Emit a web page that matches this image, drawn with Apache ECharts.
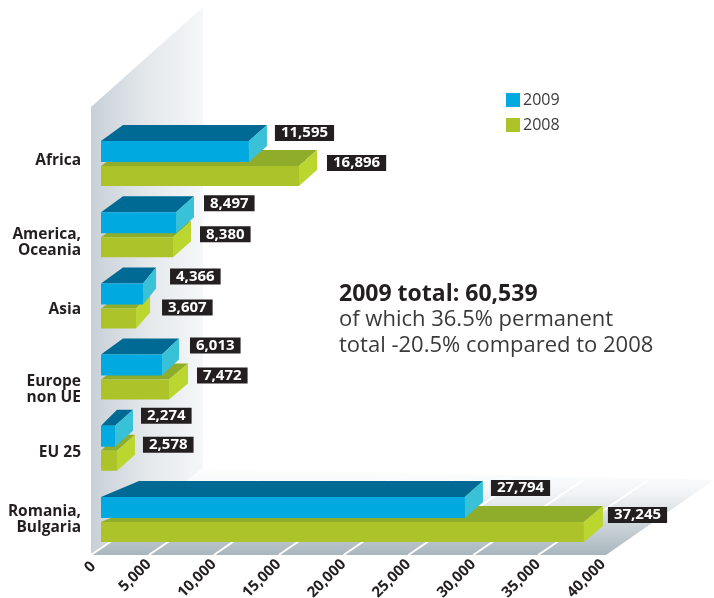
<!DOCTYPE html>
<html><head><meta charset="utf-8">
<style>html,body{margin:0;padding:0;background:#fff}#c{width:714px;height:598px}</style>
<script src="https://cdn.jsdelivr.net/npm/echarts@6/dist/echarts.min.js"></script>
</head><body><div id="c"></div>
<script>
const categories = ['Africa', 'America,\nOceania', 'Asia', 'Europe\nnon UE', 'EU 25', 'Romania,\nBulgaria'];
// Numbers printed in the picture's black boxes.
const printed2009 = [11595, 8497, 4366, 6013, 2274, 27794];
const printed2008 = [16896, 8380, 3607, 7472, 2578, 37245];
// Bar lengths as actually drawn in the picture, read against its axis
// (in the source the bars are not all proportional to their printed numbers).
const drawn2009 = [11400, 5780, 3240, 4700, 1080, 28050];
const drawn2008 = [15260, 5550, 2700, 5240, 1230, 37220];
const xTicks = [0, 5000, 10000, 15000, 20000, 25000, 30000, 35000, 40000];
const totalTitle = '2009 total: 60,539';
const totalNotes = 'of which 36.5% permanent\ntotal -20.5% compared to 2008';

const INK = '#231f20', FONT = '"Open Sans", sans-serif';
const fmt = v => v.toLocaleString('en-US');

// Hand placement quirks of the source artwork, by row.
const catShift = [-3, 8, 4, 12, 4, 0];
const look2009 = { up: [16, 17, 15, 17, 18, 17], gap: [8, 10, 14, 11, 8, 8], side: [18, 18, 13, 17, 18, 18] };
const look2008 = { up: [11, 11, 9, 12, 14, 15], gap: [10, 9, 12, 9, 8, 5], side: [18, 18, 14, 19, 18, 19] };

function frame(params, api) {
  const bottom = api.coord([0, 5])[1] + api.size([0, 1])[1] / 2;
  const l = api.coord([0, 5])[0] + 7, r = api.coord([40000, 5])[0] + 3;
  const wallTop = bottom - 448, depth = 112;
  const children = [
    { type: 'polygon', shape: { points: [[l, wallTop], [l + depth, wallTop - 100], [l + depth, bottom - 87], [l, bottom]] },
      style: { fill: new echarts.graphic.LinearGradient(0, 0, 1, 0, [{ offset: 0, color: '#c8d0d7' }, { offset: 0.5, color: '#e4e8eb' }, { offset: 1, color: '#f5f7f8' }]) } },
    { type: 'polygon', shape: { points: [[l, bottom], [r, bottom], [r + 108, bottom - 75], [l + depth, bottom - 87]] },
      style: { fill: new echarts.graphic.LinearGradient(0, 0, 0, 1, [{ offset: 0, color: '#ffffff' }, { offset: 0.3, color: '#f1f3f5' }, { offset: 1, color: '#a8b6bd' }]) } }
  ];
  xTicks.slice(0, -1).forEach((t, i) => {
    const x = i === 0 ? l : api.coord([t, 5])[0];
    children.push({ type: 'line', shape: { x1: x, y1: bottom, x2: x + 110, y2: bottom - 75 }, style: { stroke: '#fff', lineWidth: 2 } });
  });
  return { type: 'group', children };
}

function bar3d(front, top, side, printed, yOff, h, look) {
  return function (params, api) {
    const v = api.value(0), c = api.value(1), i = params.dataIndex;
    const p0 = api.coord([0, c]), p1 = api.coord([v, c]);
    const x0 = p0[0] + 17, x1 = p1[0] + 17, y = p0[1] + yOff;
    const w = x1 - x0, dxR = look.side[i], dy = 16;
    const dxL = w > 300 ? 38 : (w < 20 ? 16 : 22);
    return { type: 'group', children: [
      { type: 'polygon', shape: { points: [[x0, y], [x0 + dxL, y - dy], [x1 + dxR, y - dy], [x1, y]] }, style: { fill: top } },
      { type: 'polygon', shape: { points: [[x1, y], [x1 + dxR, y - dy], [x1 + dxR, y - dy + h], [x1, y + h]] }, style: { fill: side } },
      { type: 'rect', shape: { x: x0, y: y, width: w, height: h }, style: { fill: front } },
      { type: 'text', style: { text: fmt(printed[i]), x: x1 + dxR + look.gap[i], y: y - look.up[i], fill: '#fff', font: 'bold 15px ' + FONT,
          backgroundColor: INK, padding: [0, 6, 0, 6], lineHeight: 16, textAlign: 'left', textVerticalAlign: 'top' } }
    ] };
  };
}

const catRich = {};
catShift.forEach((s, i) => {
  catRich['c' + i] = { padding: s >= 0 ? [2 * s, 0, 0, 0] : [0, 0, -2 * s, 0] };
});

const chart = echarts.init(document.getElementById('c'), null, { renderer: 'canvas' });
chart.setOption({
  animation: false,
  backgroundColor: '#fff',
  title: {
    text: totalTitle, subtext: totalNotes, left: 339, top: 281, itemGap: 0,
    textStyle: { color: INK, fontFamily: FONT, fontWeight: 'bold', fontSize: 23, lineHeight: 26 },
    subtextStyle: { color: '#3a3a3c', fontFamily: FONT, fontSize: 22, lineHeight: 26 },
    padding: 0
  },
  legend: {
    data: ['2009', '2008'], orient: 'vertical', left: 506, top: 92, itemWidth: 14, itemHeight: 14, itemGap: 9, icon: 'rect',
    itemStyle: { borderWidth: 0 },
    textStyle: { color: '#3a3a3c', fontFamily: FONT, fontSize: 16, padding: [0, 0, 0, -2] }, selectedMode: false, padding: 0
  },
  grid: { left: 84, width: 519, top: 128, height: 427, outerBoundsMode: 'none' },
  xAxis: {
    type: 'value', min: 0, max: 40000, interval: 5000, splitLine: { show: false }, axisLine: { show: false }, axisTick: { show: false },
    axisLabel: { rotate: 45, margin: 7, color: INK, fontFamily: FONT, fontWeight: 'bold', fontSize: 15, hideOverlap: false,
      rich: { zero: { padding: [16, -5, 0, 0] } },
      formatter: v => v === 0 ? '{zero|0}' : fmt(v) }
  },
  yAxis: {
    type: 'category', inverse: true, data: categories, axisLine: { show: false }, axisTick: { show: false }, splitLine: { show: false },
    axisLabel: { margin: 3, color: INK, fontFamily: FONT, fontWeight: 'bold', fontSize: 15.5, align: 'right', interval: 0, rich: catRich,
      formatter: (v, i) => v.split('\n').map((line, k) => k === 0 ? '{c' + i + '|' + line + '}' : line).join('\n') }
  },
  series: [
    { type: 'custom', name: 'frame', silent: true, z: 1, renderItem: frame, data: [[0, 5]], encode: { x: 0, y: 1 } },
    { type: 'custom', name: '2008', z: 2, itemStyle: { color: '#acc42a' }, encode: { x: 0, y: 1 },
      renderItem: bar3d('#acc42a', '#8fac2b', '#bcd630', printed2008, 2.5, 20, look2008), data: drawn2008.map((v, i) => [v, i]) },
    { type: 'custom', name: '2009', z: 3, itemStyle: { color: '#00a9e0' }, encode: { x: 0, y: 1 },
      renderItem: bar3d('#00a9e0', '#006a94', '#38c1d7', printed2009, -22.5, 21, look2009), data: drawn2009.map((v, i) => [v, i]) }
  ]
});
</script></body></html>
